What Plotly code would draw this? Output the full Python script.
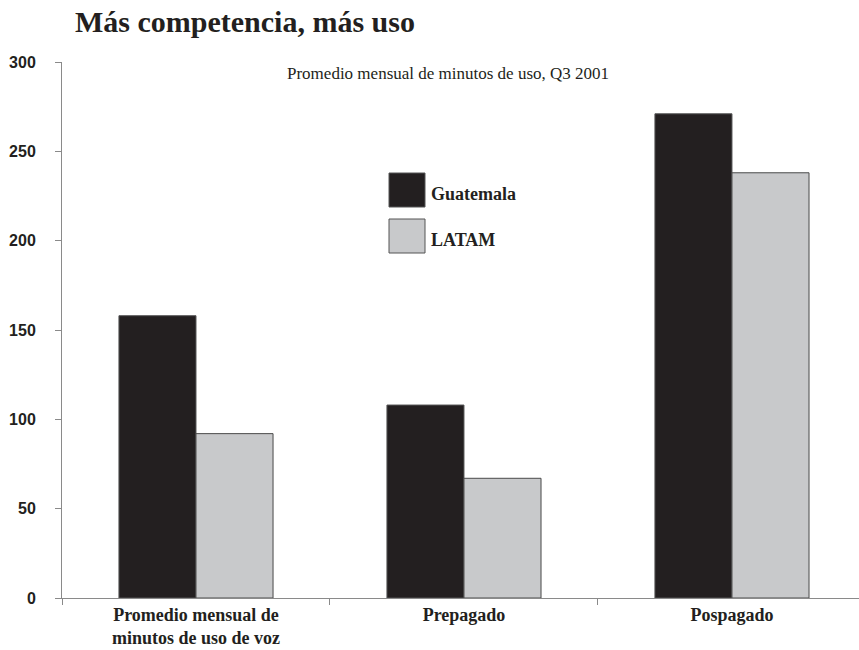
import plotly.graph_objects as go

categories = ["Promedio mensual de<br>minutos de uso de voz", "Prepagado", "Pospagado"]
guatemala = [158, 108, 271]
latam = [92, 67, 238]
series_names = ["Guatemala", "LATAM"]
y_ticks = [0, 50, 100, 150, 200, 250, 300]

title_text = "Más competencia, más uso"
subtitle_text = "Promedio mensual de minutos de uso, Q3 2001"

dark = "#231f20"
light = "#c8c9cb"
axis_grey = "#8a8a8a"
serif = "Liberation Serif, Times New Roman, serif"
sans = "Liberation Sans, Arial, sans-serif"

fig = go.Figure()
fig.add_trace(go.Bar(x=categories, y=guatemala, name=series_names[0],
                     marker=dict(color=dark, line=dict(color="#555555", width=1)),
                     showlegend=False))
fig.add_trace(go.Bar(x=categories, y=latam, name=series_names[1],
                     marker=dict(color=light, line=dict(color="#4a4a4a", width=1)),
                     showlegend=False))

# hand-drawn legend: large swatches with bold serif labels
swatches = [(dark, 173, 207, series_names[0]), (light, 219, 253, series_names[1])]
for color, top, bottom, label in swatches:
    fig.add_shape(type="rect", xref="paper", yref="paper",
                  x0=(389 - 62) / 797, x1=(425 - 62) / 797,
                  y0=(598 - bottom) / 536, y1=(598 - top) / 536,
                  fillcolor=color, line=dict(color="#555555", width=1))
    fig.add_annotation(text=label, xref="paper", yref="paper",
                       x=(429 - 62) / 797, y=(598 - bottom + 1) / 536,
                       xanchor="left", yanchor="bottom", showarrow=False,
                       font=dict(family=serif, size=18, color=dark, weight="bold"))

fig.add_annotation(text=subtitle_text, xref="paper", yref="paper",
                   x=(448 - 62) / 797, y=(598 - 73) / 536,
                   xanchor="center", yanchor="middle", showarrow=False,
                   font=dict(family=serif, size=17, color=dark))

fig.update_layout(
    width=859, height=650,
    margin=dict(l=62, r=0, t=62, b=52),
    paper_bgcolor="white", plot_bgcolor="white",
    barmode="group", bargap=0.425, bargroupgap=0,
    title=dict(text=title_text, x=75 / 859, xanchor="left", y=1 - 21 / 650,
               yanchor="middle", xref="container", yref="container",
               font=dict(family=serif, size=30, color=dark, weight="bold")),
    xaxis=dict(type="category", range=[-0.5, 2.474], tickson="boundaries",
               showline=True, linecolor=axis_grey, linewidth=1,
               ticks="outside", ticklen=6, tickcolor=axis_grey,
               showgrid=False, zeroline=False,
               tickfont=dict(family=serif, size=18, color=dark, weight="bold")),
    yaxis=dict(range=[0, 300], tickvals=y_ticks, showline=True,
               linecolor=axis_grey, linewidth=1, ticks="outside", ticklen=6,
               tickcolor=axis_grey, showgrid=False, zeroline=False,
               ticklabelstandoff=16,
               tickfont=dict(family=sans, size=16, color=dark, weight="bold")),
)

fig.write_html("out.html")
